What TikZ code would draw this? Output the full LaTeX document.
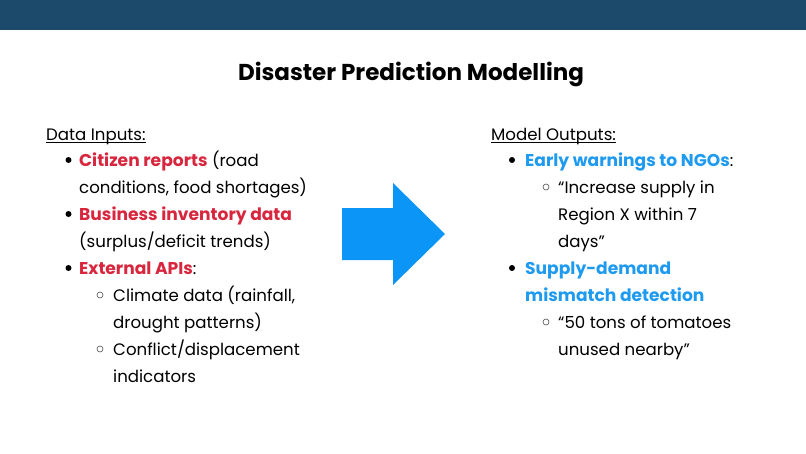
\documentclass[tikz,border=0pt]{standalone}
\usepackage{fontspec}
\setmainfont{Poppins}
\usetikzlibrary{positioning}
\definecolor{barblue}{HTML}{1C4A6B}
\definecolor{inred}{HTML}{D7263D}
\definecolor{outblue}{HTML}{1E9AF0}
\definecolor{arrblue}{HTML}{0B95F7}
\newcommand{\inkey}[1]{{\color{inred}\fontsize{17.1}{19}\selectfont\bfseries #1}}
\newcommand{\outkey}[1]{{\color{outblue}\fontsize{17.1}{19}\selectfont\bfseries #1}}

\begin{document}
\begin{tikzpicture}[x=1pt, y=-1pt,
    txt/.style={anchor=base west, inner sep=0pt, font=\fontsize{16.6}{19}\selectfont},
    head/.style={txt},
    dot/.style={circle, fill=black, inner sep=0pt, minimum size=6pt},
    ring/.style={circle, draw=black!70, line width=0.6pt, inner sep=0pt, minimum size=6pt}
]
\useasboundingbox (0,0) rectangle (806,453);
\fill[barblue] (0,0) rectangle (806,30);

\node[anchor=base, inner sep=0pt, font=\fontsize{23}{27}\selectfont\bfseries] (title) at (411,80) {Disaster Prediction Modelling};

% inputs
\node[head] (din) at (46,140) {Data Inputs:};
\draw[line width=0.7pt] ([yshift=-2.5pt]din.base west) -- ([yshift=-2.5pt]din.base east);
\node[dot] (b1) at (68.5,160) {};
\node[txt] (c1) at (79,166) {\inkey{Citizen reports} (road};
\node[txt] (c2) at (79,193) {conditions, food shortages)};
\node[dot] (b2) at (68.5,214) {};
\node[txt] (c3) at (79,220) {\inkey{Business inventory data}};
\node[txt] (c4) at (79,247) {(surplus/deficit trends)};
\node[dot] (b3) at (68.5,268) {};
\node[txt] (c5) at (79,274) {\inkey{External APIs}:};
\node[ring] (s1) at (100,295) {};
\node[txt] (c6) at (113,301) {Climate data (rainfall,};
\node[txt] (c7) at (113,328) {drought patterns)};
\node[ring] (s2) at (100,349) {};
\node[txt] (c8) at (113,355) {Conflict/displacement};
\node[txt] (c9) at (113,382) {indicators};

% arrow
\fill[arrblue] (342,208) -- (393,208) -- (393,183) -- (445,234) -- (393,285) -- (393,260) -- (342,260) -- cycle;

% outputs
\node[head] (dout) at (491,140) {Model Outputs:};
\draw[line width=0.7pt] ([yshift=-2.5pt]dout.base west) -- ([yshift=-2.5pt]dout.base east);
\node[dot] (d1) at (512,160) {};
\node[txt] (o1) at (525,166) {\outkey{Early warnings to NGOs}:};
\node[ring] (r1) at (546,187) {};
\node[txt] (o2) at (558,193) {“Increase supply in};
\node[txt] (o3) at (558,220) {Region X within 7};
\node[txt] (o4) at (558,247) {days”};
\node[dot] (d2) at (512,268) {};
\node[txt] (o5) at (525,274) {\outkey{Supply-demand}};
\node[txt] (o6) at (525,301) {\outkey{mismatch detection}};
\node[ring] (r2) at (546,322) {};
\node[txt] (o7) at (558,328) {“50 tons of tomatoes};
\node[txt] (o8) at (558,355) {unused nearby”};
\end{tikzpicture}
\end{document}
